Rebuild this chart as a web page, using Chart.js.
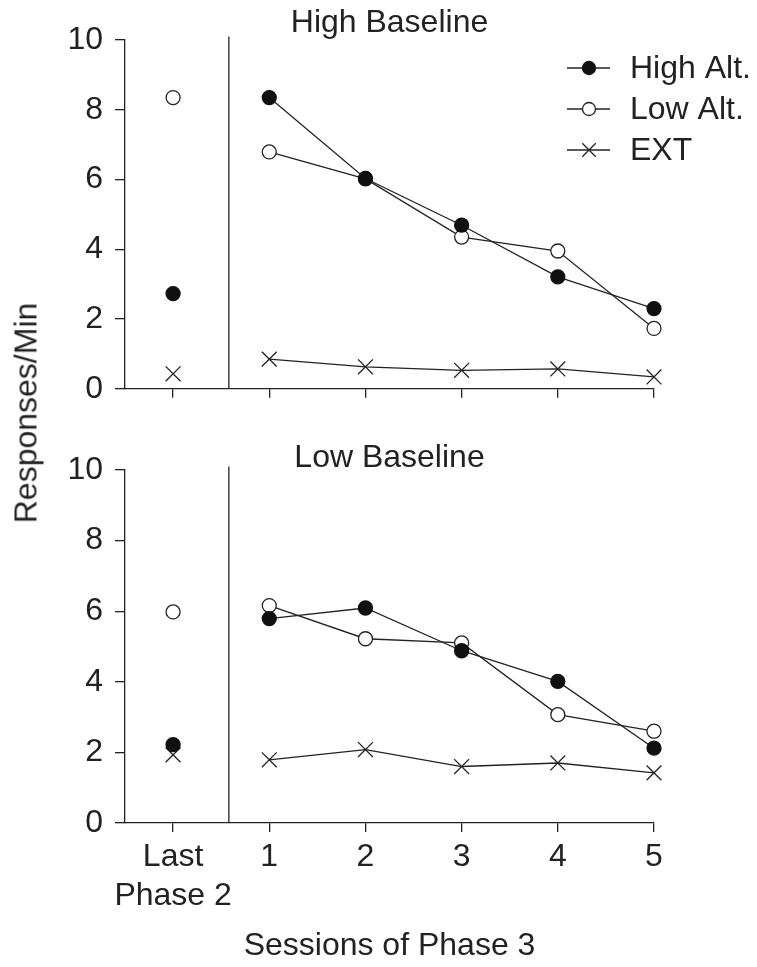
<!DOCTYPE html>
<html>
<head>
<meta charset="utf-8">
<script src="https://cdn.jsdelivr.net/npm/chart.js@4.4.1/dist/chart.umd.min.js"></script>
<style>
  body { margin: 0; background: #fff; }
  #wrap { position: relative; width: 757px; height: 967px; }
  canvas { position: absolute; left: 0; }
  #top { top: 0; }
  #bottom { top: 420px; }
  #ytitle {
    position: absolute; left: 26px; top: 413px;
    transform: translate(-50%, -50%) rotate(-90deg);
    font: 32px "Liberation Sans", Arial, sans-serif; color: #222; white-space: nowrap;
  }
</style>
</head>
<body>
<div id="wrap">
  <canvas id="top" width="757" height="420"></canvas>
  <canvas id="bottom" width="757" height="547"></canvas>
  <div id="ytitle"></div>
</div>
<script>
// tick labels / names
const xTickLabels = [['Last', 'Phase 2'], '1', '2', '3', '4', '5'];
const seriesNames = ['High Alt.', 'Low Alt.', 'EXT'];
const panelTitles = ['High Baseline', 'Low Baseline'];
const yTitle = 'Responses/Min';
const xTitle = 'Sessions of Phase 3';

// High Baseline panel (first value = last session of Phase 2)
const highBaseHighAlt = [2.73, 8.35, 6.03, 4.69, 3.21, 2.30];
const highBaseLowAlt = [8.35, 6.79, 6.02, 4.35, 3.95, 1.73];
const highBaseExt = [0.43, 0.85, 0.63, 0.53, 0.57, 0.34];

// Low Baseline panel
const lowBaseHighAlt = [2.22, 5.79, 6.09, 4.88, 4.01, 2.12];
const lowBaseLowAlt = [5.98, 6.16, 5.22, 5.10, 3.07, 2.60];
const lowBaseExt = [1.93, 1.79, 2.08, 1.60, 1.70, 1.42];

// phase divider sits between "Last" and session 1
const dividerAt = 0.58;

const INK = '#222';
const FONT = '"Liberation Sans", Arial, sans-serif';
Chart.defaults.font.family = FONT;
Chart.defaults.color = INK;

document.getElementById('ytitle').textContent = yTitle;

const styles = [
  { pointStyle: 'circle', pointRadius: 7, pointBackgroundColor: '#111', pointBorderColor: '#111', pointBorderWidth: 1.3, legendRadius: 6.5 },
  { pointStyle: 'circle', pointRadius: 7, pointBackgroundColor: '#fff', pointBorderColor: INK, pointBorderWidth: 1.3, legendRadius: 6.5 },
  { pointStyle: 'crossRot', pointRadius: 10.5, pointBackgroundColor: INK, pointBorderColor: INK, pointBorderWidth: 1.3, legendRadius: 9.5 }
];

const panelDecor = {
  id: 'panelDecor',
  beforeDatasetsDraw(chart, args, opts) {
    const { ctx, scales: { x, y } } = chart;
    const px = x.getPixelForValue(dividerAt);
    ctx.save();
    ctx.strokeStyle = INK;
    ctx.lineWidth = 1.3;
    ctx.beginPath();
    ctx.moveTo(px, y.getPixelForValue(10.1));
    ctx.lineTo(px, y.getPixelForValue(0));
    ctx.stroke();
    ctx.restore();
  },
  afterDraw(chart, args, opts) {
    const { ctx, chartArea } = chart;
    ctx.save();
    ctx.fillStyle = INK;
    ctx.font = '32px ' + FONT;
    ctx.textAlign = 'center';
    ctx.textBaseline = 'alphabetic';
    ctx.fillText(opts.title, (chartArea.left + chartArea.right) / 2, opts.titleY);

    if (opts.legend) {
      chart.data.datasets.forEach((ds, i) => {
        const ly = 68 + i * 41;
        ctx.strokeStyle = INK;
        ctx.lineWidth = 1.3;
        ctx.beginPath();
        ctx.moveTo(567, ly);
        ctx.lineTo(610, ly);
        ctx.stroke();
        ctx.fillStyle = ds.pointBackgroundColor;
        ctx.strokeStyle = ds.pointBorderColor;
        ctx.lineWidth = ds.pointBorderWidth;
        Chart.helpers.drawPoint(ctx, { pointStyle: ds.pointStyle, radius: styles[i].legendRadius, rotation: 0, borderWidth: ds.pointBorderWidth }, 589, ly);
        ctx.fillStyle = INK;
        ctx.font = '32px ' + FONT;
        ctx.textAlign = 'left';
        ctx.textBaseline = 'middle';
        ctx.fillText(ds.label, 630, ly + 1);
      });
    }
    ctx.restore();
  }
};

function makePanel(id, title, series, isBottom) {
  const datasets = series.map((vals, i) => ({
    label: seriesNames[i],
    data: vals.map((v, k) => ({ x: k, y: v })),
    borderColor: INK,
    borderWidth: 1.3,
    pointStyle: styles[i].pointStyle,
    pointRadius: styles[i].pointRadius,
    pointBackgroundColor: styles[i].pointBackgroundColor,
    pointBorderColor: styles[i].pointBorderColor,
    pointBorderWidth: styles[i].pointBorderWidth,
    clip: false,
    segment: {
      // the Phase 2 point is not joined to the Phase 3 sessions
      borderColor: c => c.p0DataIndex === 0 ? 'rgba(0,0,0,0)' : INK
    }
  }));

  return new Chart(document.getElementById(id), {
    type: 'line',
    data: { datasets },
    options: {
      responsive: false,
      animation: false,
      devicePixelRatio: 1,
      layout: { padding: { top: isBottom ? 50 : 40, right: 103, left: 0, bottom: 0 } },
      plugins: {
        legend: { display: false },
        tooltip: { enabled: false },
        panelDecor: { title, titleY: isBottom ? 47 : 32, legend: !isBottom }
      },
      scales: {
        x: {
          type: 'linear',
          min: -0.5,
          max: 5,
          afterBuildTicks: s => { s.ticks = xTickLabels.map((_, k) => ({ value: k })); },
          afterFit: s => { s.height = isBottom ? 144 : 28; },
          ticks: {
            display: isBottom,
            autoSkip: false,
            maxRotation: 0,
            padding: 5.5,
            font: { size: 32, lineHeight: 1.22 },
            callback: (v, k) => xTickLabels[k]
          },
          grid: { display: true, drawOnChartArea: false, drawTicks: true, tickLength: 9, color: INK, lineWidth: 1.3 },
          border: { display: true, color: INK, width: 1.3 },
          title: {
            display: isBottom,
            text: xTitle,
            font: { size: 32 },
            padding: { top: 0, bottom: 1.5 }
          }
        },
        y: {
          min: 0,
          max: 10,
          afterFit: s => { s.width = 125; },
          ticks: { stepSize: 2, padding: 12, font: { size: 32 } },
          grid: { display: true, drawOnChartArea: false, drawTicks: true, tickLength: 10, color: INK, lineWidth: 1.3 },
          border: { display: true, color: INK, width: 1.3 }
        }
      }
    },
    plugins: [panelDecor]
  });
}

makePanel('top', panelTitles[0], [highBaseHighAlt, highBaseLowAlt, highBaseExt], false);
makePanel('bottom', panelTitles[1], [lowBaseHighAlt, lowBaseLowAlt, lowBaseExt], true);
</script>
</body>
</html>
